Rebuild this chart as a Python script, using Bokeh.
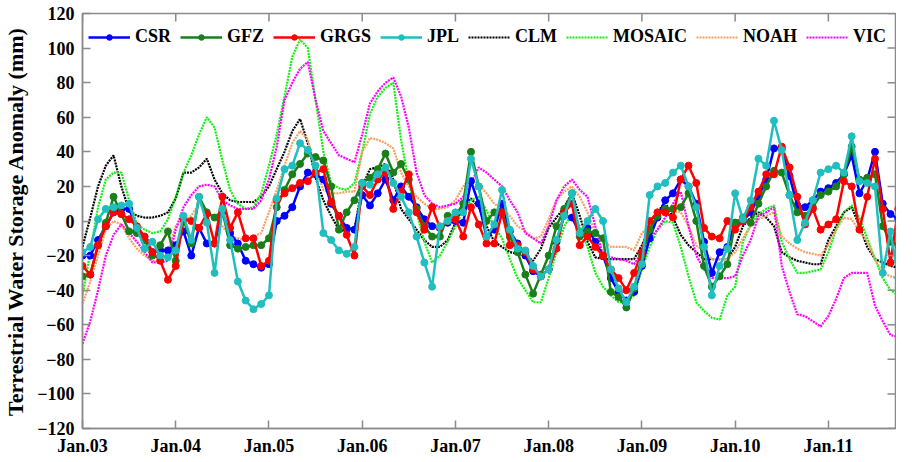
import math
from bokeh.plotting import figure
from bokeh.models import Range1d, FixedTicker, Legend, LegendItem
from bokeh.embed import file_html
from bokeh.resources import INLINE

# ---------------- data (monthly, Jan 2003 .. Nov 2011) ----------------
year_ticks = [2003, 2004, 2005, 2006, 2007, 2008, 2009, 2010, 2011]
year_labels = ["Jan.03", "Jan.04", "Jan.05", "Jan.06", "Jan.07", "Jan.08",
               "Jan.09", "Jan.10", "Jan.11"]
y_ticks = [-120, -100, -80, -60, -40, -20, 0, 20, 40, 60, 80, 100, 120]

csr = [-20, -20, -11, -3, 5, 7, 7, -5, -11, -18, -17, -17,
       -14, -6, -20, -4, -13, -13, 5, -7, -13, -23, -25, -27,
       -25, 0, 3, 8, 20, 28, 27, 24, 10, 3, -4, -5,
       15, 9, 16, 24, 12, 20, 14, 8, 1, -3, -4, -1,
       0, -1, 23, 10, -9, -5, 10, -6, -13, -20, -29, -32,
       -28, -12, 3, 2, -7, -4, -12, -20, -33, -41, -46, -41,
       -26, -10, 2, 12, 16, 24, 20, 10, -12, -30, -18, -15,
       -1, 0, 5, 14, 24, 42, 42, 26, 9, 8, 12, 17,
       19, 22, 27, 38, 16, 24, 40, 10, 4, 1, 0]

gfz = [-32, -31, -14, -1, 14, 4, -6, -7, -11, -20, -14, -6,
       -23, 1, -13, 14, 5, 2, 6, -14, -16, -15, -14, -14,
       -10, 8, 18, 27, 33, 39, 37, 35, 20, -5, 5, 12,
       22, 25, 30, 39, 28, 33, 24, 7, -3, -9, -9, 3,
       3, 10, 40, 20, 0, 5, 5, -9, -18, -31, -42, -31,
       -20, -3, 7, 16, -9, -6, -7, -10, -41, -44, -50, -39,
       -20, -5, 3, 7, 7, 8, 16, 0, -26, -38, -32, -25,
       -1, 2, -1, 10, 20, 29, 28, 15, 5, 3, 8, 15,
       17, 20, 27, 43, 24, 25, 27, -3, -12, -14, -10]

grgs = [-26, -31, -14, -3, 5, 4, 1, -3, -9, -18, -23, -34,
        -26, 1, 0, -4, 4, -13, 14, -4, 5, -10, -10, -26,
        -23, 12, 16, 19, 22, 23, 28, 30, 11, 3, -8, -20,
        20, 15, 24, 28, 7, 17, 27, 5, -5, 8, -4, 0,
        1, -9, 8, -2, -13, -13, 5, -14, -14, -18, -28, -32,
        -28, -16, 5, 10, -14, -9, -15, -20, -28, -33, -40, -30,
        -18, 0, 5, 5, 2, 24, 32, 22, -4, -9, -10, 0,
        -5, 0, 8, 17, 27, 27, 43, 31, 14, -2, 7, -5,
        -2, 1, 23, 20, -5, 14, 36, 7, -24, 7, 2]

jpl = [-18, -15, 1, 7, 8, 9, 10, -4, -16, -12, -20, -21,
       -17, 3, -11, 14, -1, -30, 7, -11, -35, -46, -51, -48,
       -43, 13, 30, 32, 45, 41, 32, -7, -11, -17, -19, -15,
       22, 21, 27, 31, 22, 14, 5, -9, -24, -38, -3, 0,
       5, 5, 36, 20, -9, -2, 18, -5, -16, -17, -26, -32,
       -28, -11, 3, 16, -7, 0, 7, 0, -28, -39, -47, -38,
       -25, 15, 20, 22, 28, 32, 20, 8, -15, -43, -26, -16,
       16, 1, 12, 36, 32, 58, 41, 15, -11, -1, 12, 28,
       30, 32, 28, 49, 23, 22, 20, -30, -6, -33, -15]

clm = [-15, 2, 20, 32, 38, 20, 6, 3, 2, 2, 3, 5,
       13, 28, 28, 31, 36, 24, 16, 12, 11, 11, 11, 14,
       20, 30, 40, 52, 59, 45, 25, 12, 3, -5, -6, -5,
       20, 30, 31, 33, 24, 7, 1, -5, -11, -15, -15, -11,
       -1, 8, 13, 8, -3, -12, -15, -18, -19, -20, -23, -16,
       -4, 2, 8, 16, 3, -12, -21, -22, -22, -22, -22, -22,
       -14, -4, 5, 11, 2, -8, -14, -18, -22, -22, -22, -22,
       -15, -3, 2, 5, 2, -3, -18, -21, -23, -24, -25, -25,
       -11, -3, 5, 8, -3, -15, -22, -24, -26, -27, -26]

mosaic = [-43, -18, 8, 24, 28, 28, 12, -2, -5, -7, -6, 1,
          14, 28, 38, 50, 60, 54, 35, 18, 10, 7, 8, 16,
          32, 50, 72, 95, 105, 100, 70, 40, 22, 19, 18, 22,
          40, 62, 72, 77, 80, 47, 22, 5, -12, -24, -20, -12,
          -3, 6, 12, 14, 6, -3, -10, -22, -33, -40, -47, -47,
          -33, -18, -3, 4, -3, -15, -30, -38, -43, -47, -47, -43,
          -28, -15, -5, 0, -1, -15, -32, -47, -52, -56, -57, -43,
          -38, -12, -2, 4, 7, 9, -12, -22, -30, -30, -29, -28,
          -18, -5, 5, 9, 2, -10, -22, -33, -40, -43, -40]

noah = [-48, -35, -20, -5, 0, -2, -10, -16, -20, -23, -23, -18,
        -3, 0, 3, 10, 6, 2, -3, -9, -10, -11, -9, -7,
        5, 18, 32, 45, 52, 47, 30, 18, 16, 16, 17, 17,
        40, 48, 47, 45, 42, 28, 20, 14, 10, 7, 7, 8,
        12, 20, 25, 21, 16, 10, 7, 3, -3, -6, -10, -9,
        1, 12, 17, 20, 14, 5, -7, -11, -15, -15, -15, -17,
        -7, -3, 2, 8, 6, 5, -3, -14, -18, -22, -22, -22,
        -18, -10, -3, 1, 3, 5, -9, -13, -16, -18, -19, -20,
        -14, -5, 2, 1, -6, -12, -22, -30, -32, -33, -32]

vic = [-71, -58, -40, -20, -8, -2, -7, -12, -18, -24, -24, -23,
       -5, 8, 15, 20, 21, 20, 12, 9, 7, 7, 7, 12,
       24, 43, 70, 80, 88, 92, 70, 52, 45, 38, 36, 34,
       50, 68, 75, 80, 83, 72, 54, 28, 15, 10, 8, 9,
       10, 14, 22, 31, 28, 24, 20, 12, 5, -7, -10, -13,
       -3, 12, 20, 24, 18, 14, -3, -20, -21, -22, -23, -25,
       -18, -10, -5, 2, 10, 17, -3, -20, -28, -33, -33, -33,
       -32, -20, -11, 3, 5, 8, -26, -41, -54, -55, -58, -61,
       -55, -45, -33, -30, -30, -30, -49, -58, -66, -67, -66]

months = [2003 + i / 12.0 for i in range(len(csr))]

grace = [("CSR", csr, "#0000ff"), ("GFZ", gfz, "#1a7f1a"),
         ("GRGS", grgs, "#ff0000"), ("JPL", jpl, "#20bebe")]
models = [("CLM", clm, "#000000"), ("MOSAIC", mosaic, "#10f010"),
          ("NOAH", noah, "#f4a060"), ("VIC", vic, "#ff00ff")]

FONT = "Liberation Serif"
AXIS_COL = "#8a8a8a"
X0, X1 = 2003, 2011.72
Y0, Y1 = -120, 120

p = figure(width=896, height=458, output_backend="svg", toolbar_location=None,
           x_range=Range1d(X0, X1), y_range=Range1d(Y0, Y1),
           min_border_left=73, min_border_right=1, min_border_top=13,
           min_border_bottom=0, background_fill_color="white",
           border_fill_color="white")
p.grid.visible = False
p.outline_line_color = AXIS_COL
p.outline_line_width = 1.5

items = {}
for name, vals, col in models:
    r = p.line(months, vals, line_color=col, line_width=2.2, line_dash="2 1")
    items[name] = [r]
for name, vals, col in grace:
    r1 = p.line(months, vals, line_color=col, line_width=2.5)
    r2 = p.scatter(months, vals, marker="circle", size=7, fill_color=col,
                   line_color=col)
    items[name] = [r1, r2]

# inward tick marks on the top and right frame edges
p.scatter(year_ticks, [Y1] * len(year_ticks), marker="dash", size=16,
          angle=math.pi / 2, line_color=AXIS_COL, line_width=1.5)
p.scatter([X1] * len(y_ticks), y_ticks, marker="dash", size=16,
          line_color=AXIS_COL, line_width=1.5)

order = ["CSR", "GFZ", "GRGS", "JPL", "CLM", "MOSAIC", "NOAH", "VIC"]
legend = Legend(items=[LegendItem(label=n, renderers=items[n]) for n in order],
                orientation="horizontal", location=(6, 381),
                label_text_font=FONT, label_text_font_style="bold",
                label_text_font_size="18px", label_text_color="black",
                label_height=20, glyph_height=14, glyph_width=42,
                label_standoff=5, spacing=9, padding=0, margin=0,
                background_fill_alpha=0, border_line_alpha=0)
p.add_layout(legend, "center")

xa = p.xaxis[0]
xa.ticker = FixedTicker(ticks=year_ticks)
xa.major_label_overrides = {t: l for t, l in zip(year_ticks, year_labels)}
ya = p.yaxis[0]
ya.ticker = FixedTicker(ticks=y_ticks)
ya.axis_label = "Terrestrial Water Storage Anomaly (mm)"
ya.axis_label_text_font = FONT
ya.axis_label_text_font_style = "bold"
ya.axis_label_text_font_size = "22px"
ya.axis_label_text_color = "black"
ya.axis_label_standoff = 6
for ax in (xa, ya):
    ax.major_label_text_font = FONT
    ax.major_label_text_font_style = "bold"
    ax.major_label_text_font_size = "18px"
    ax.major_label_text_color = "black"
    ax.axis_line_color = AXIS_COL
    ax.axis_line_width = 1.5
    ax.major_tick_line_color = AXIS_COL
    ax.major_tick_line_width = 1.5
    ax.major_tick_in = 8
    ax.major_tick_out = 0
    ax.minor_tick_line_color = None
ya.major_label_standoff = 8
xa.major_label_standoff = 7

open("out.html", "w").write(file_html(p, INLINE))
